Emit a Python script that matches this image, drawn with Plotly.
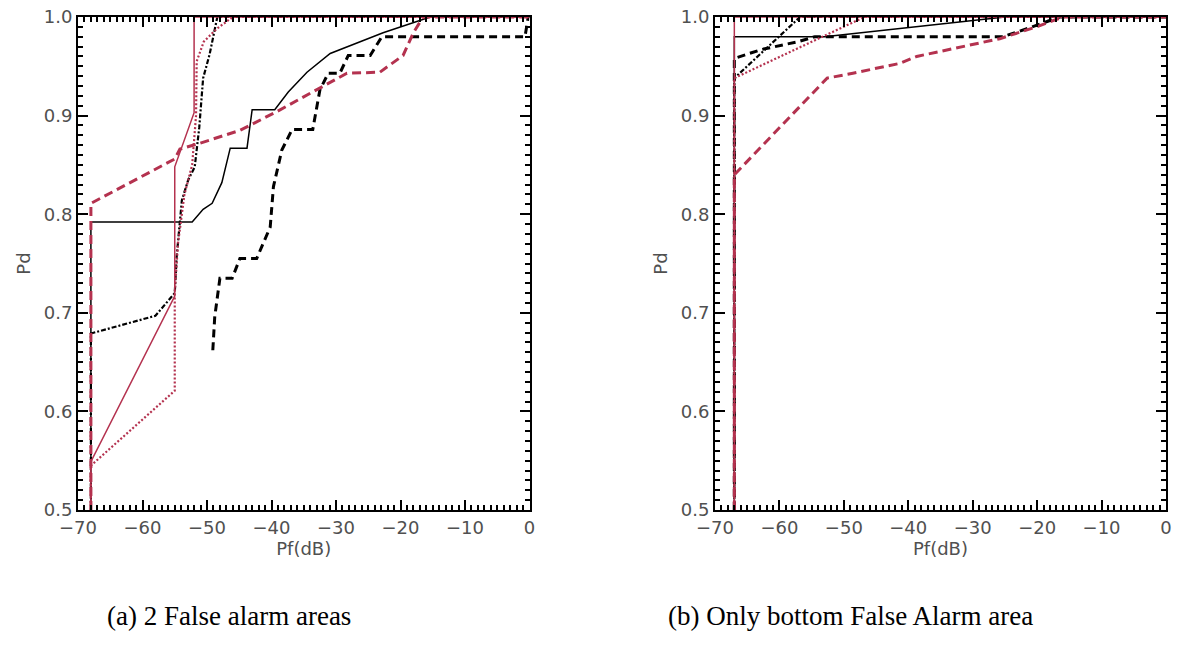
import plotly.graph_objects as go

# ---------------- data: (a) 2 False alarm areas ----------------
a_black_solid_x = [-68, -68, -52.3, -50.6, -49.2, -47.7, -46.4, -43.8, -43, -39.5, -37.4, -34.5, -30.9, -22.7, -15.4, 0]
a_black_solid_y = [0.5, 0.792, 0.792, 0.805, 0.811, 0.832, 0.867, 0.867, 0.906, 0.906, 0.924, 0.944, 0.963, 0.984, 1.0, 1.0]

a_black_dash_x = [-49.1, -48.8, -48, -46.1, -44.9, -42.3, -40.2, -39.7, -38.4, -36.8, -33.6, -32.5, -31.2, -29.4, -28.1, -24.7, -22.9, -0.7, -0.2, 0]
a_black_dash_y = [0.662, 0.696, 0.735, 0.735, 0.755, 0.755, 0.787, 0.828, 0.865, 0.886, 0.886, 0.926, 0.943, 0.943, 0.961, 0.961, 0.98, 0.98, 1.0, 1.0]

a_black_dashdot_x = [-68, -68, -58, -55, -54.7, -53.9, -52.9, -51.9, -51.2, -50.6, -49.6, -48.4, 0]
a_black_dashdot_y = [0.5, 0.679, 0.697, 0.72, 0.757, 0.814, 0.835, 0.848, 0.888, 0.938, 0.962, 1.0, 1.0]

a_red_dash_x = [-68, -68, -55, -54.2, -51.1, -44.9, -39.2, -32.5, -28.3, -23.2, -19.6, -18, -16.5, 0]
a_red_dash_y = [0.5, 0.811, 0.856, 0.866, 0.872, 0.885, 0.904, 0.928, 0.943, 0.944, 0.961, 0.984, 1.0, 1.0]

a_red_dot_x = [-68, -68, -55, -55, -54.5, -53.5, -52.3, -51.7, -51.6, -50.5, -48.5, -46, 0]
a_red_dot_y = [0.5, 0.545, 0.621, 0.72, 0.77, 0.82, 0.85, 0.9, 0.955, 0.975, 0.988, 1.0, 1.0]

a_red_solid_x = [-68, -68, -55, -55, -52, -52, 0]
a_red_solid_y = [0.5, 0.549, 0.717, 0.848, 0.903, 1.0, 1.0]

# ---------------- data: (b) Only bottom False Alarm area ----------------
b_black_solid_x = [-67, -67, -53, -25, 0]
b_black_solid_y = [0.5, 0.98, 0.98, 1.0, 1.0]

b_black_dash_x = [-67, -67, -62.8, -57.1, -54.5, -25.3, -21.2, -16.5, 0]
b_black_dash_y = [0.5, 0.958, 0.967, 0.975, 0.98, 0.98, 0.989, 1.0, 1.0]

b_black_dashdot_x = [-67, -67, -56.8, 0]
b_black_dashdot_y = [0.5, 0.938, 1.0, 1.0]

b_red_dash_x = [-67, -67, -52.6, -48.6, -41.3, -38.7, -25.8, -20.1, -16, 0]
b_red_dash_y = [0.5, 0.84, 0.938, 0.943, 0.953, 0.96, 0.978, 0.99, 1.0, 1.0]

b_red_dot_x = [-67, -67, -46.8, 0]
b_red_dot_y = [0.5, 0.938, 1.0, 1.0]

b_red_solid_x = [-67, -67, 0]
b_red_solid_y = [0.5, 1.0, 1.0]

x_title = "Pf(dB)"
y_title = "Pd"
captions = ["(a) 2 False alarm areas", "(b) Only bottom False Alarm area"]

RED = "#B4324F"
BLACK = "#000000"

styles = {
    "black_solid": dict(color=BLACK, width=1.5, dash="solid"),
    "black_dash": dict(color=BLACK, width=3, dash="8px,5px"),
    "black_dashdot": dict(color=BLACK, width=2.2, dash="5px,2px,2px,2px"),
    "red_dash": dict(color=RED, width=3, dash="9px,5px"),
    "red_dot": dict(color=RED, width=2.2, dash="2px,2px"),
    "red_solid": dict(color=RED, width=1.5, dash="solid"),
}

fig = go.Figure()

panels = [
    ("x", "y", [
        ("black_solid", a_black_solid_x, a_black_solid_y),
        ("black_dash", a_black_dash_x, a_black_dash_y),
        ("black_dashdot", a_black_dashdot_x, a_black_dashdot_y),
        ("red_dash", a_red_dash_x, a_red_dash_y),
        ("red_dot", a_red_dot_x, a_red_dot_y),
        ("red_solid", a_red_solid_x, a_red_solid_y),
    ]),
    ("x2", "y2", [
        ("black_solid", b_black_solid_x, b_black_solid_y),
        ("black_dash", b_black_dash_x, b_black_dash_y),
        ("black_dashdot", b_black_dashdot_x, b_black_dashdot_y),
        ("red_dash", b_red_dash_x, b_red_dash_y),
        ("red_dot", b_red_dot_x, b_red_dot_y),
        ("red_solid", b_red_solid_x, b_red_solid_y),
    ]),
]

for xa, ya, series in panels:
    for key, xs, ys in series:
        fig.add_trace(go.Scatter(x=xs, y=ys, mode="lines", line=styles[key],
                                 xaxis=xa, yaxis=ya, showlegend=False, hoverinfo="skip",
                                 cliponaxis=False))

W, H = 1186, 664
ydom = [1 - 510 / H, 1 - 17 / H]
xdoms = [[78 / W, 529.5 / W], [715 / W, 1166 / W]]

tickfont = dict(family="DejaVu Sans", size=18, color="#505050")

def xaxis_cfg(dom, anchor):
    return dict(domain=dom, anchor=anchor, range=[-70, 0], dtick=10, tick0=0,
                automargin=False, ticklabeloverflow="allow",
                ticks="inside", ticklen=10, tickwidth=2, tickcolor="black",
                showline=True, linecolor="black", linewidth=2, mirror="allticks",
                showgrid=False, zeroline=False, tickfont=tickfont,
                minor=dict(ticks="inside", ticklen=5, tickwidth=1.5, tickcolor="black", dtick=1, showgrid=False),
                title=dict(text=x_title, font=tickfont, standoff=2))

def yaxis_cfg(anchor):
    return dict(domain=ydom, anchor=anchor, range=[0.5, 1.0], dtick=0.1, tick0=0.5,
                tickformat=".1f", automargin=False, ticklabeloverflow="allow",
                ticks="inside", ticklen=10, tickwidth=2, tickcolor="black",
                showline=True, linecolor="black", linewidth=2, mirror="allticks",
                showgrid=False, zeroline=False, tickfont=tickfont,
                minor=dict(ticks="inside", ticklen=5, tickwidth=1.5, tickcolor="black", dtick=0.01, showgrid=False),
                title=dict(text=y_title, font=tickfont, standoff=8))

fig.update_layout(
    width=W, height=H,
    margin=dict(l=0, r=0, t=0, b=0, autoexpand=False),
    paper_bgcolor="white", plot_bgcolor="white",
    xaxis=xaxis_cfg(xdoms[0], "y"),
    yaxis=yaxis_cfg("x"),
    xaxis2=xaxis_cfg(xdoms[1], "y2"),
    yaxis2=yaxis_cfg("x2"),
)

cap_font = dict(family="Liberation Serif", size=27, color="black")
cap_y = 1 - 616 / H
fig.add_annotation(text=captions[0], x=229 / W, y=cap_y, xref="paper", yref="paper",
                   showarrow=False, font=cap_font, xanchor="center", yanchor="middle")
fig.add_annotation(text=captions[1], x=850 / W, y=cap_y, xref="paper", yref="paper",
                   showarrow=False, font=cap_font, xanchor="center", yanchor="middle")

fig.write_html("out.html", config={"displayModeBar": False},
               post_script="document.body.style.margin='0px';document.body.style.overflow='hidden';")
